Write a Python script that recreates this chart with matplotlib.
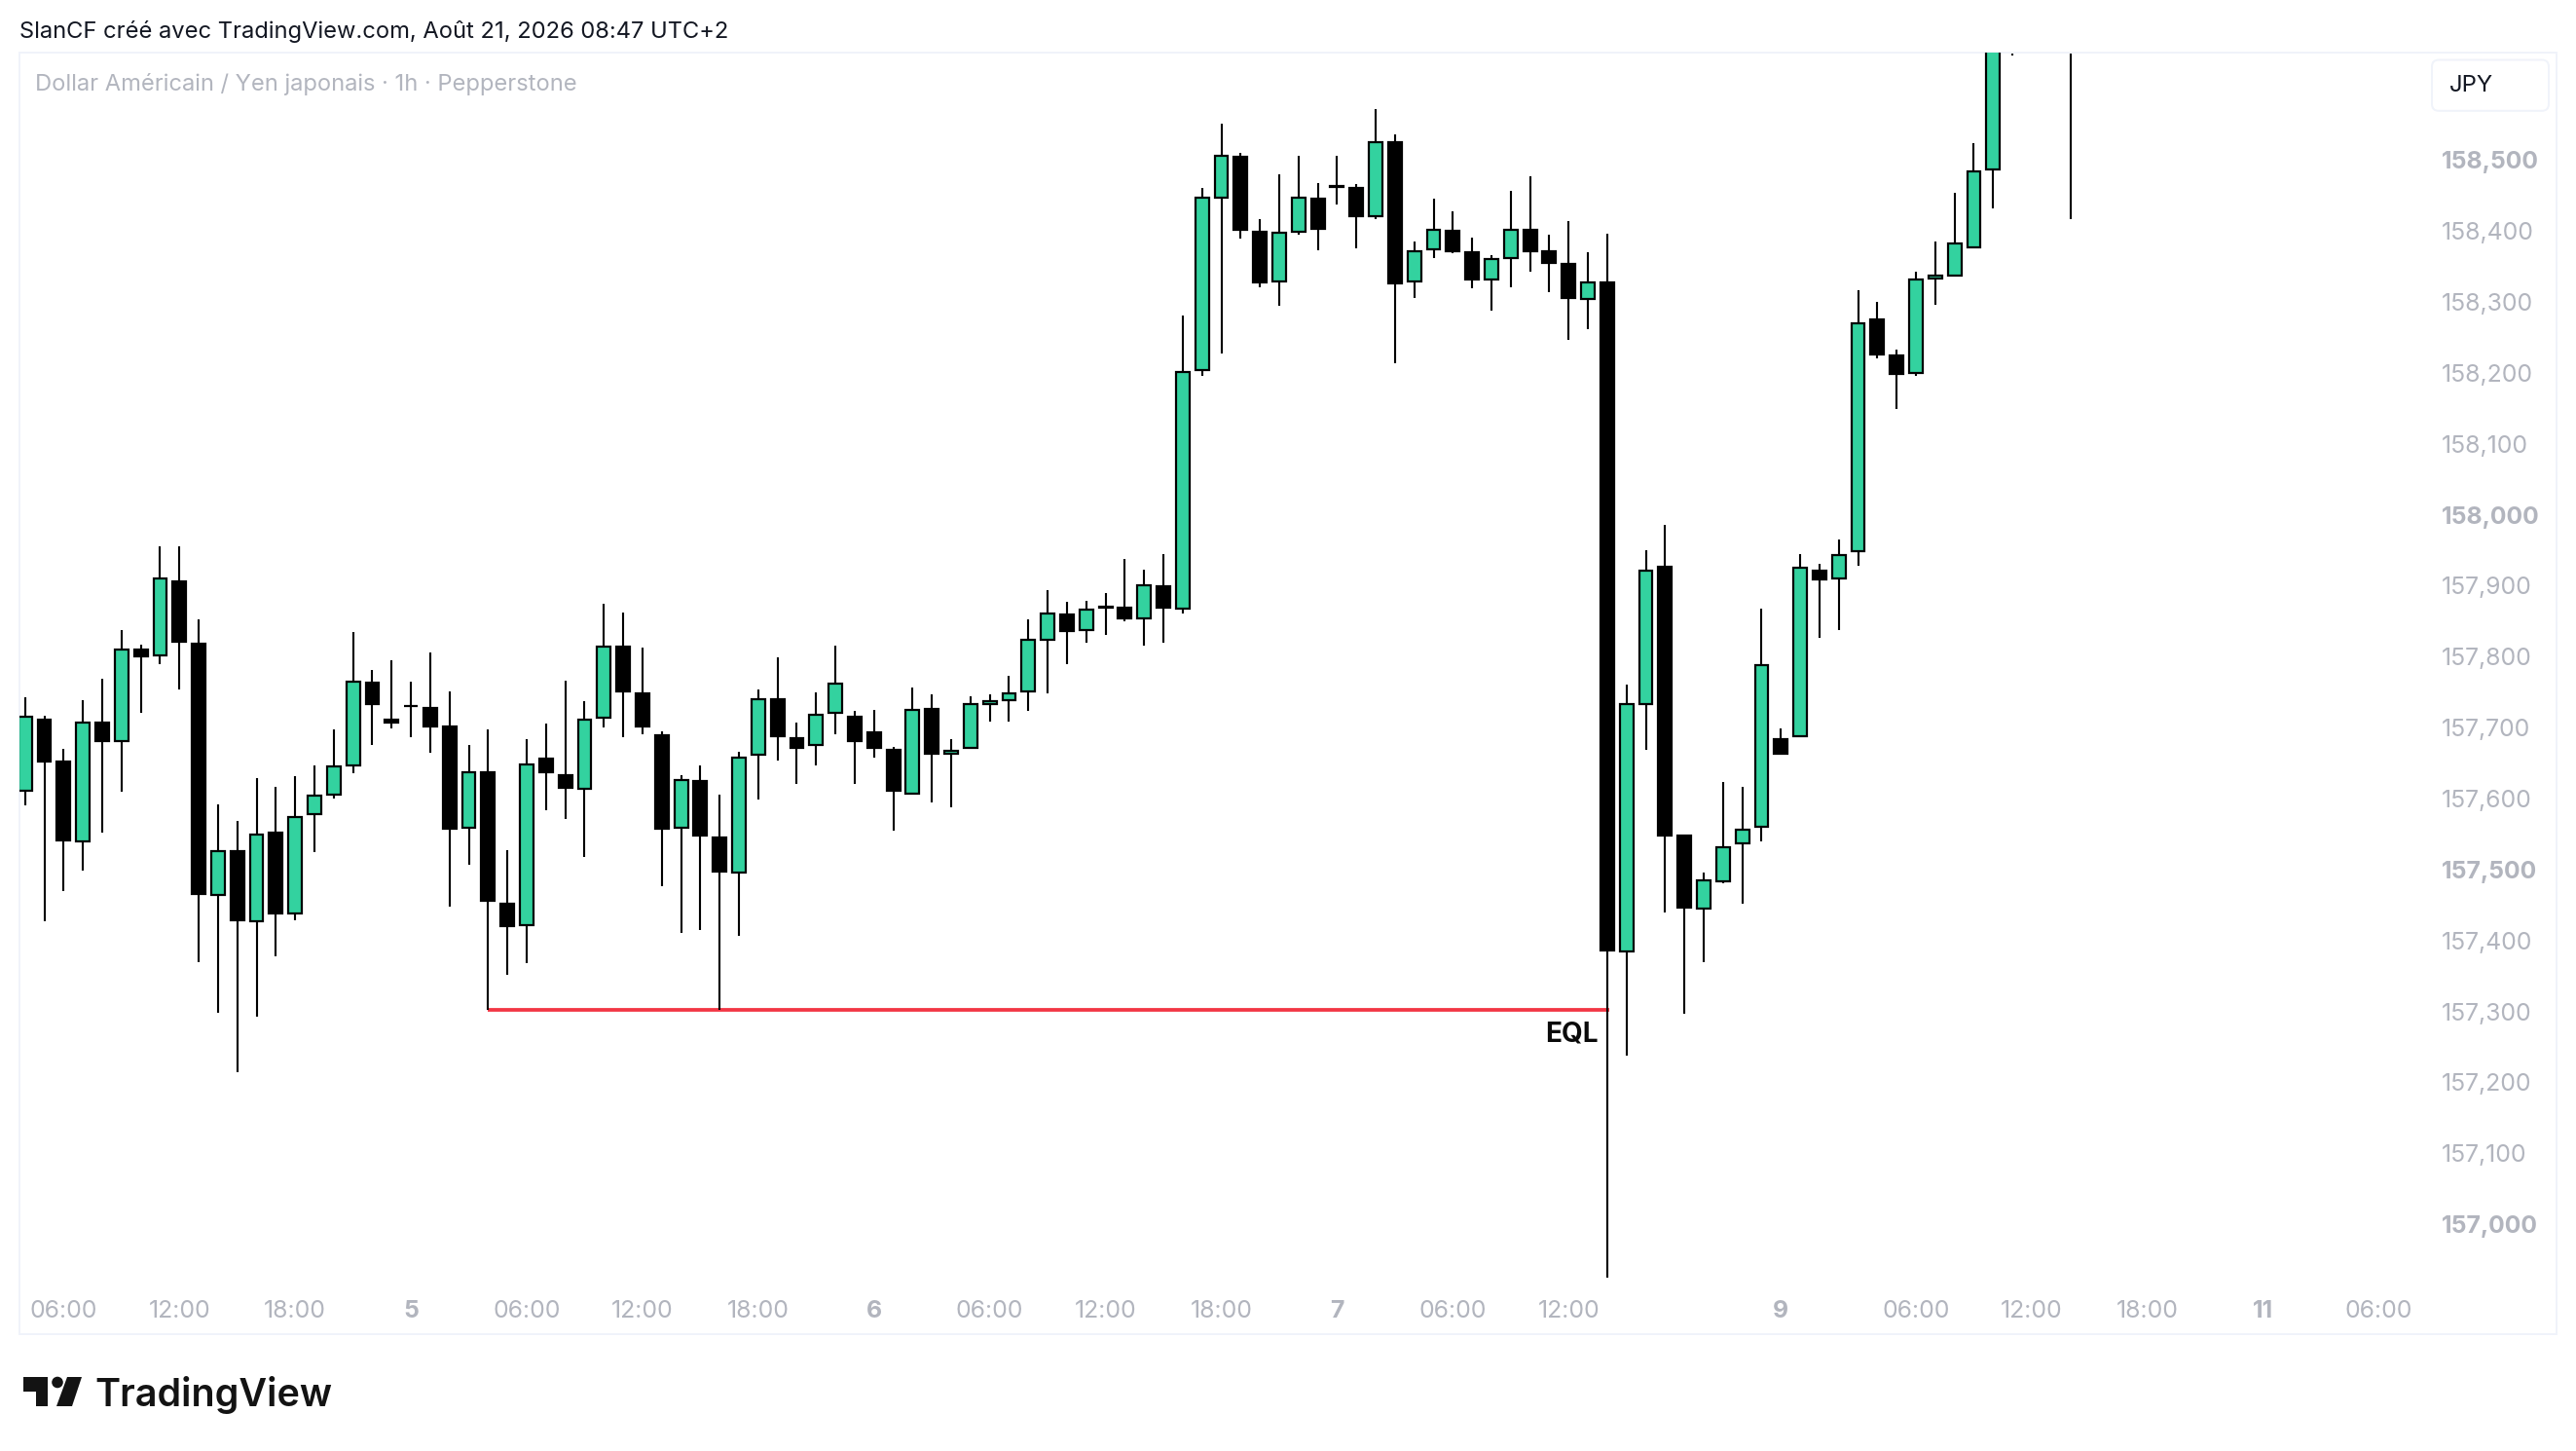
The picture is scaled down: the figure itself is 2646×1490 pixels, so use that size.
import matplotlib
matplotlib.use("Agg")
import matplotlib.pyplot as plt
from matplotlib.patches import FancyBboxPatch, Polygon, Circle
import numpy as np

plt.rcParams['font.family'] = ['Inter', 'DejaVu Sans']

W, H = 2646, 1490
DPI = 200

# candles, one hour each
# the last ones (103-106) run above the visible area, their tops are a guess
opens = [157.610, 157.713, 157.654, 157.538, 157.709, 157.680, 157.812, 157.800, 157.907, 157.819,
         157.462, 157.527, 157.425, 157.553, 157.436, 157.577, 157.604, 157.645, 157.764, 157.713,
         157.732, 157.729, 157.703, 157.557, 157.639, 157.453, 157.420, 157.658, 157.634, 157.612,
         157.712, 157.816, 157.750, 157.691, 157.558, 157.626, 157.546, 157.494, 157.660, 157.742,
         157.687, 157.674, 157.719, 157.716, 157.695, 157.670, 157.605, 157.728, 157.661, 157.670,
         157.731, 157.737, 157.749, 157.822, 157.861, 157.836, 157.872, 157.871, 157.852, 157.900,
         157.866, 158.202, 158.446, 158.506, 158.400, 158.328, 158.398, 158.447, 158.464, 158.462,
         158.420, 158.527, 158.327, 158.372, 158.402, 158.372, 158.330, 158.360, 158.403, 158.373,
         158.355, 158.303, 158.329, 157.383, 157.731, 157.928, 157.549, 157.444, 157.482, 157.535,
         157.559, 157.685, 157.686, 157.923, 157.909, 157.947, 158.276, 158.226, 158.199, 158.332,
         158.335, 158.376, 158.485, 158.800, 158.950, 159.050, 159.100]
closes = [157.716, 157.650, 157.540, 157.708, 157.679, 157.811, 157.799, 157.911, 157.819, 157.464,
          157.527, 157.427, 157.550, 157.437, 157.575, 157.606, 157.647, 157.766, 157.732, 157.706,
          157.729, 157.700, 157.556, 157.639, 157.454, 157.419, 157.650, 157.636, 157.613, 157.713,
          157.816, 157.750, 157.700, 157.556, 157.627, 157.546, 157.496, 157.659, 157.742, 157.686,
          157.670, 157.720, 157.763, 157.679, 157.670, 157.609, 157.726, 157.662, 157.668, 157.734,
          157.738, 157.750, 157.825, 157.862, 157.835, 157.867, 157.867, 157.852, 157.902, 157.867,
          158.202, 158.448, 158.507, 158.400, 158.326, 158.399, 158.448, 158.402, 158.460, 158.420,
          158.526, 158.324, 158.373, 158.403, 158.370, 158.330, 158.362, 158.403, 158.370, 158.354,
          158.304, 158.329, 157.384, 157.735, 157.923, 157.547, 157.445, 157.486, 157.533, 157.557,
          157.789, 157.662, 157.927, 157.907, 157.944, 158.271, 158.225, 158.197, 158.333, 158.338,
          158.384, 158.485, 158.800, 158.950, 159.050, 159.100, 158.950]
highs = [157.743, 157.716, 157.670, 157.739, 157.769, 157.838, 157.817, 157.956, 157.956, 157.853,
         157.592, 157.569, 157.629, 157.617, 157.632, 157.646, 157.697, 157.835, 157.781, 157.795,
         157.765, 157.806, 157.751, 157.676, 157.697, 157.527, 157.683, 157.706, 157.766, 157.737,
         157.875, 157.862, 157.813, 157.695, 157.633, 157.647, 157.606, 157.666, 157.753, 157.799,
         157.707, 157.750, 157.816, 157.724, 157.725, 157.672, 157.757, 157.747, 157.683, 157.744,
         157.747, 157.773, 157.852, 157.894, 157.877, 157.879, 157.890, 157.937, 157.923, 157.945,
         158.281, 158.460, 158.551, 158.510, 158.417, 158.480, 158.506, 158.468, 158.506, 158.466,
         158.572, 158.536, 158.385, 158.446, 158.427, 158.391, 158.366, 158.457, 158.477, 158.395,
         158.414, 158.370, 158.396, 157.760, 157.950, 157.986, 157.549, 157.496, 157.623, 157.617,
         157.868, 157.699, 157.945, 157.931, 157.965, 158.317, 158.300, 158.233, 158.343, 158.385,
         158.454, 158.524, 158.850, 159.000, 159.100, 159.150, 159.150]
lows = [157.590, 157.427, 157.470, 157.498, 157.552, 157.609, 157.721, 157.790, 157.754, 157.370,
        157.298, 157.214, 157.292, 157.377, 157.429, 157.525, 157.600, 157.635, 157.676, 157.699,
        157.687, 157.665, 157.447, 157.507, 157.302, 157.351, 157.368, 157.583, 157.571, 157.518,
        157.700, 157.686, 157.691, 157.477, 157.411, 157.414, 157.302, 157.407, 157.598, 157.653,
        157.621, 157.646, 157.691, 157.620, 157.658, 157.555, 157.605, 157.595, 157.587, 157.670,
        157.708, 157.709, 157.723, 157.748, 157.790, 157.819, 157.831, 157.850, 157.816, 157.820,
        157.861, 158.196, 158.227, 158.389, 158.321, 158.294, 158.394, 158.373, 158.437, 158.376,
        158.417, 158.214, 158.306, 158.362, 158.369, 158.319, 158.287, 158.321, 158.342, 158.314,
        158.246, 158.262, 156.924, 157.237, 157.669, 157.439, 157.297, 157.370, 157.480, 157.451,
        157.539, 157.662, 157.686, 157.827, 157.838, 157.928, 158.220, 158.149, 158.196, 158.296,
        158.335, 158.376, 158.432, 158.647, 158.700, 158.800, 158.4165]

x_tick_pos = [2, 8, 14, 20, 26, 32, 38, 44, 50, 56, 62, 68, 74, 80, 91, 98, 104, 110, 116, 122]
x_tick_labels = ['06:00', '12:00', '18:00', '5', '06:00', '12:00', '18:00', '6', '06:00', '12:00',
                 '18:00', '7', '06:00', '12:00', '9', '06:00', '12:00', '18:00', '11', '06:00']
y_tick_pos = [157.0, 157.1, 157.2, 157.3, 157.4, 157.5, 157.6, 157.7, 157.8, 157.9,
              158.0, 158.1, 158.2, 158.3, 158.4, 158.5]
y_tick_labels = ['157,000', '157,100', '157,200', '157,300', '157,400', '157,500', '157,600', '157,700',
                 '157,800', '157,900', '158,000', '158,100', '158,200', '158,300', '158,400', '158,500']

eql_price = 157.302
eql_start = 24
eql_end = 82.1

GREEN = '#33d29f'
GREY = '#b2b5be'
BORDER = '#f0f3fa'
px = 72 / DPI  # one image pixel in points

fig = plt.figure(figsize=(W / DPI, H / DPI), dpi=DPI, facecolor='white')

# chart box
box_l, box_r, box_t, box_b = 20, 2626, 53.5, 1370
ax = fig.add_axes([box_l / W, 1 - box_b / H, (box_r - box_l) / W, (box_b - box_t) / H])
ax.set_xlim(-0.288, 131.2)
ax.set_ylim(156.845, 158.652)
for s in ax.spines.values():
    s.set_color(BORDER)
    s.set_linewidth(2 * px)

opens = np.array(opens)
closes = np.array(closes)
idx = np.arange(len(opens))
up = closes >= opens
colors = [GREEN if u else 'black' for u in up]
body_top = np.maximum(opens, closes)
body_bot = np.minimum(opens, closes)
# values are the outer edge of the body, the stroke is centred on the bar edge
inset = 0.0014
heights = np.maximum(body_top - body_bot - 2 * inset, 0.0002)

ax.vlines(idx, lows, highs, colors='black', linewidth=2.1 * px, zorder=2)
ax.bar(idx, heights, bottom=body_bot + inset, width=0.70, color=colors, edgecolor='black',
       linewidth=2.2 * px, zorder=3)

ax.hlines(eql_price, eql_start, eql_end, colors='#f23645', linewidth=3.8 * px, zorder=1)
ax.text(81.55, 157.268, 'EQL', ha='right', va='center', fontsize=28 * px, fontweight='bold', color='#0a0a0a')

ax.set_xticks(x_tick_pos)
ax.set_xticklabels(x_tick_labels)
ax.yaxis.tick_right()
ax.set_yticks(y_tick_pos)
ax.set_yticklabels(y_tick_labels)
ax.tick_params(axis='x', length=0, pad=-35 * px, labelsize=24.8 * px, labelcolor=GREY)
ax.tick_params(axis='y', length=0, pad=-118 * px, labelsize=24.8 * px, labelcolor=GREY)
for t in ax.get_xticklabels():
    if ':' not in t.get_text():
        t.set_fontweight('bold')
for t, v in zip(ax.get_yticklabels(), y_tick_pos):
    if round(v * 10) % 5 == 0:
        t.set_fontweight('bold')

# overlay in image pixels for the header, the currency button and the logo
ov = fig.add_axes([0, 0, 1, 1], facecolor='none')
ov.set_xlim(0, W)
ov.set_ylim(H, 0)
ov.axis('off')

ov.text(20, 32, 'SlanCF créé avec TradingView.com, Août 21, 2026 08:47 UTC+2', ha='left', va='center',
        fontsize=23.7 * px, color='#131722')
ov.text(36, 87, 'Dollar Américain / Yen japonais · 1h · Pepperstone', ha='left', va='center',
        fontsize=23.7 * px, color=GREY)

ov.add_patch(FancyBboxPatch((2498, 61.5), 120, 52.3, boxstyle='round,pad=0,rounding_size=7',
                            facecolor='white', edgecolor=BORDER, linewidth=2 * px))
ov.text(2516, 88.5, 'JPY', ha='left', va='center', fontsize=24 * px, color='#131722')

# logo mark
LOGO = '#131313'
ov.add_patch(Polygon([(24, 1414), (48.5, 1414), (48.5, 1444), (36.5, 1444), (36.5, 1429), (24, 1429)],
                     closed=True, facecolor=LOGO, edgecolor='none'))
ov.add_patch(Circle((59, 1419.5), 5.8, facecolor=LOGO, edgecolor='none'))
ov.add_patch(Polygon([(69, 1414), (84, 1414), (74, 1444), (58, 1444)], closed=True, facecolor=LOGO, edgecolor='none'))
ov.text(97, 1432, 'TradingView', ha='left', va='center', fontsize=39.5 * px, fontweight='semibold', color=LOGO)

fig.savefig('out.png', dpi=DPI)
